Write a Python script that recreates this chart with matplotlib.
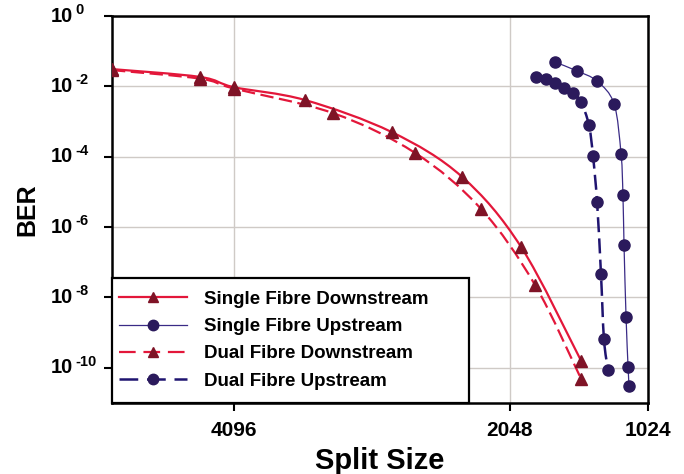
import numpy as np
import matplotlib
matplotlib.use('Agg')
import matplotlib.pyplot as plt
import matplotlib.transforms as mtransforms
from matplotlib.path import Path
from matplotlib.patches import PathPatch, Rectangle
from matplotlib.lines import Line2D

plt.rcParams['font.family'] = ['Liberation Sans', 'DejaVu Sans']
plt.rcParams['font.weight'] = 'bold'

# split size vs BER
sf_down_split = [5000, 4348, 4096, 3569, 2924, 2404, 1966, 1521]
sf_down_ber = [3.1e-2, 1.86e-2, 9.5e-3, 4.1e-3, 5.0e-4, 2.7e-5, 2.75e-7, 1.6e-10]

df_down_split = [5000, 4348, 4096, 3361, 2753, 2263, 1863, 1521]
df_down_ber = [2.9e-2, 1.66e-2, 8.7e-3, 1.74e-3, 1.29e-4, 3.3e-6, 2.3e-8, 4.9e-11]

sf_up_split = [1714, 1551, 1402, 1276, 1224, 1210, 1202, 1187, 1172, 1165]
sf_up_ber = [4.9e-2, 2.75e-2, 1.41e-2, 3.2e-3, 1.2e-4, 8.1e-6, 3.1e-7, 2.8e-9, 1.07e-10, 3.1e-11]

df_up_split = [1855, 1781, 1714, 1647, 1581, 1521, 1462, 1432, 1402, 1373, 1351, 1321]
df_up_ber = [1.86e-2, 1.62e-2, 1.26e-2, 8.9e-3, 6.5e-3, 3.6e-3, 7.9e-4, 1.05e-4,
             5.2e-6, 4.7e-8, 6.6e-10, 8.7e-11]

x_ticks = [4096, 2048, 1024]
y_exponents = [0, -2, -4, -6, -8, -10]

RED = '#e3173a'
DARK_RED = '#7f1326'
NAVY = '#2b1a5c'
NAVY_LINE = '#3a2b86'
NAVY_DASH = '#1f1470'


def smooth_path(x, y):
    # Catmull-Rom style smoothing (like Excel's smoothed line), done in x / log10(y)
    pts = np.column_stack([np.asarray(x, float), np.log10(y)])
    n = len(pts)
    verts = [pts[0]]
    codes = [Path.MOVETO]
    for i in range(n - 1):
        p0 = pts[i - 1] if i > 0 else pts[i]
        p1 = pts[i]
        p2 = pts[i + 1]
        p3 = pts[i + 2] if i + 2 < n else pts[i + 1]
        verts += [p1 + (p2 - p0) / 6, p2 - (p3 - p1) / 6, p2]
        codes += [Path.CURVE4] * 3
    verts = np.array(verts)
    verts[:, 1] = 10 ** verts[:, 1]
    return Path(verts, codes)


fig = plt.figure(figsize=(6.84, 4.74), dpi=100)
ax = fig.add_axes([0.1637, 0.1498, 0.7837, 0.8164])
ax.set_yscale('log')
ax.set_xlim(5000, 1024)
ax.set_ylim(1e-11, 1e0)

series = [
    (sf_down_split, sf_down_ber, RED, 1.6, '-', '^', DARK_RED, 'Single Fibre Downstream'),
    (sf_up_split, sf_up_ber, NAVY_LINE, 0.9, '-', 'o', NAVY, 'Single Fibre Upstream'),
    (df_down_split, df_down_ber, RED, 1.6, (0, (6, 2.5)), '^', DARK_RED, 'Dual Fibre Downstream'),
    (df_up_split, df_up_ber, NAVY_DASH, 1.8, (0, (6, 2.5)), 'o', NAVY, 'Dual Fibre Upstream'),
]

handles = []
for xs, ys, lc, lw, ls, mk, mc, label in series:
    patch = PathPatch(smooth_path(xs, ys), facecolor='none', edgecolor=lc,
                      linewidth=lw, linestyle=ls, zorder=3)
    ax.add_patch(patch)
    ax.plot(xs, ys, linestyle='none', marker=mk, markersize=8,
            markerfacecolor=mc, markeredgecolor=mc, zorder=4)
    leg_ls = ls if ls == '-' else (0, (7.5, 3.5))
    handles.append(Line2D([], [], color=lc, linewidth=lw, linestyle=leg_ls, marker=mk,
                          markersize=7.5, markerfacecolor=mc, markeredgecolor=mc,
                          label=label))

ax.set_xticks(x_ticks)
ax.set_xticklabels([str(v) for v in x_ticks])
ax.set_yticks([10.0 ** e for e in y_exponents])
ax.set_yticklabels([])
ax.yaxis.set_minor_locator(matplotlib.ticker.NullLocator())
ax.tick_params(axis='both', direction='out', length=6, width=1.5)
ax.tick_params(axis='x', pad=7, labelsize=15)

# y tick labels: "10" with a small superscript, left aligned like the original
ytrans = mtransforms.blended_transform_factory(ax.transAxes, ax.transData)
for e in y_exponents:
    ax.text(-0.114, 10.0 ** e, '10', transform=ytrans, ha='left', va='center',
            fontsize=14.5, fontweight='bold', clip_on=False)
    ax.annotate(str(e), xy=(-0.114, 10.0 ** e), xycoords=ytrans,
                xytext=(25, 6), textcoords='offset pixels', ha='left', va='center',
                fontsize=10.5, fontweight='bold', annotation_clip=False)

ax.grid(True, color='#cfcac6', linewidth=1.0, zorder=0)
ax.set_axisbelow(True)
for sp in ax.spines.values():
    sp.set_linewidth(1.8)
    sp.set_color('black')

ax.set_xlabel('Split Size', fontsize=21, fontweight='bold', labelpad=5)
ax.set_ylabel('BER', fontsize=18, fontweight='bold', labelpad=43)

box = Rectangle((0, 0), 0.666, 0.323, transform=ax.transAxes, facecolor='white',
                edgecolor='black', linewidth=1.6, zorder=4.8, clip_on=False)
ax.add_patch(box)
leg = ax.legend(handles=handles, loc='upper left', bbox_to_anchor=(0.014, 0.29),
                borderaxespad=0, borderpad=0, fontsize=13.5, handlelength=3.6,
                handletextpad=0.9, labelspacing=0.54, frameon=False)
leg.set_zorder(5)

fig.savefig('out.png', dpi=100)
